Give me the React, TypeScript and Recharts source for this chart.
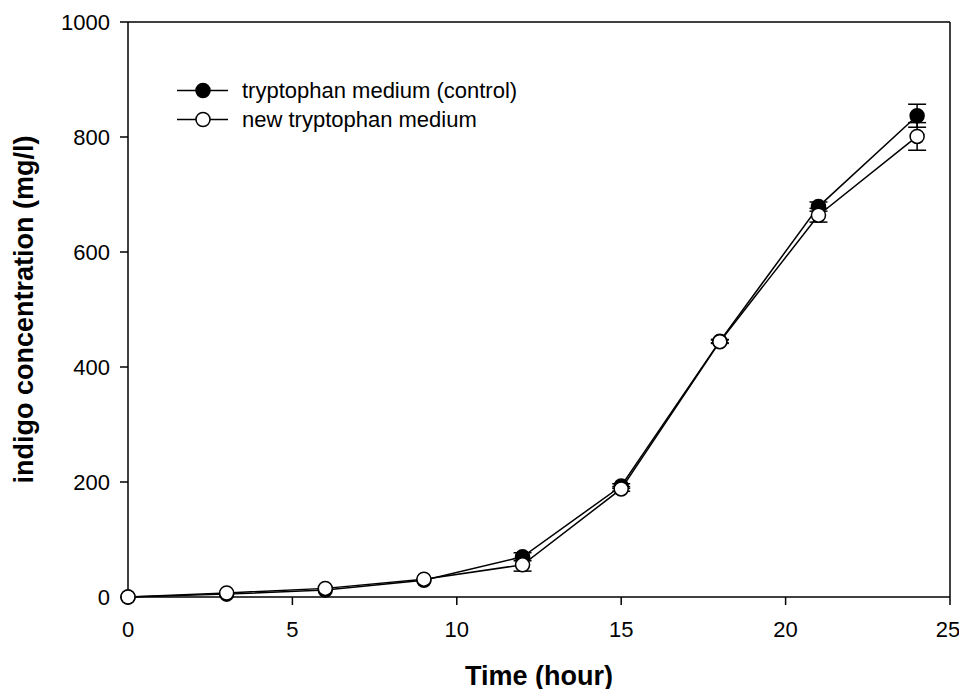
import { ComposedChart, Line, XAxis, YAxis, ErrorBar, ReferenceLine, Legend } from "recharts";

const hours = [0, 3, 6, 9, 12, 15, 18, 21, 24];
const control = [0, 5, 12, 29, 70, 193, 445, 679, 837];
const controlErr = [0, 0, 0, 0, 7, 4, 3, 8, 20];
const newMedium = [0, 7, 15, 31, 56, 188, 444, 664, 801];
const newErr = [0, 0, 0, 0, 11, 4, 3, 12, 24];

const xTicks = [0, 5, 10, 15, 20, 25];
const yTicks = [0, 200, 400, 600, 800, 1000];

const seriesInfo = [
  { key: "control", name: "tryptophan medium (control)", fill: "#000" },
  { key: "newMedium", name: "new tryptophan medium", fill: "#fff" },
];

const data = hours.map((h, i) => ({
  hour: h,
  control: control[i],
  controlErr: controlErr[i],
  newMedium: newMedium[i],
  newErr: newErr[i],
}));

const FONT = "'Liberation Sans', Arial, Helvetica, sans-serif";

const YTitle = ({ viewBox }: any) => {
  const cx = viewBox.x + 8;
  const cy = viewBox.y + viewBox.height / 2;
  return (
    <text
      x={cx}
      y={cy}
      transform={`rotate(-90 ${cx} ${cy})`}
      textAnchor="middle"
      dominantBaseline="central"
      fontFamily={FONT}
      fontWeight="bold"
      fontSize={27}
      fill="#000"
    >
      indigo concentration (mg/l)
    </text>
  );
};

const XTitle = ({ viewBox }: any) => (
  <text
    x={viewBox.x + viewBox.width / 2}
    y={viewBox.y + 88}
    textAnchor="middle"
    fontFamily={FONT}
    fontWeight="bold"
    fontSize={27}
    fill="#000"
  >
    Time (hour)
  </text>
);

const LegendBox = () => (
  <svg width={380} height={60} style={{ overflow: "visible", display: "block" }}>
    {seriesInfo.map((s, i) => {
      const y = 14.5 + i * 29;
      return (
        <g key={s.key}>
          <line x1={0} x2={51} y1={y} y2={y} stroke="#000" strokeWidth={1.5} />
          <circle cx={26} cy={y} r={7} fill={s.fill} stroke="#000" strokeWidth={1.5} />
          <text x={65} y={y} dominantBaseline="central" fontFamily={FONT} fontSize={22} fill="#000">
            {s.name}
          </text>
        </g>
      );
    })}
  </svg>
);

export default function App() {
  const dot = (fill: string) => ({ r: 7, fill, stroke: "#000", strokeWidth: 1.5 });
  return (
    <div>
      <style>{`.recharts-surface { overflow: visible; }`}</style>
      <ComposedChart
        width={951}
        height={681}
        data={data}
        margin={{ top: 14, right: 9, left: 8, bottom: 0 }}
        style={{ fontFamily: FONT }}
      >
        <XAxis
          dataKey="hour"
          type="number"
          domain={[0, 25]}
          ticks={xTicks}
          height={92}
          tickSize={8}
          tickMargin={16}
          stroke="#000"
          strokeWidth={1.5}
          tick={{ fill: "#000", fontSize: 22 }}
          label={<XTitle />}
        />
        <YAxis
          type="number"
          domain={[0, 1000]}
          ticks={yTicks}
          width={112}
          tickSize={8}
          tickMargin={10}
          stroke="#000"
          strokeWidth={1.5}
          tick={{ fill: "#000", fontSize: 22 }}
          label={<YTitle />}
        />
        <ReferenceLine y={1000} stroke="#000" strokeWidth={1.5} />
        <ReferenceLine x={25} stroke="#000" strokeWidth={1.5} />
        <Legend
          verticalAlign="middle"
          align="center"
          layout="horizontal"
          wrapperStyle={{ top: 67.5, left: 169, width: 380, margin: 0, padding: 0 }}
          content={<LegendBox />}
        />
        <Line
          dataKey="control"
          name={seriesInfo[0].name}
          type="linear"
          stroke="#000"
          strokeWidth={1.5}
          dot={dot("#000")}
          isAnimationActive={false}
        >
          <ErrorBar dataKey="controlErr" width={9} stroke="#000" strokeWidth={1.5} direction="y" />
        </Line>
        <Line
          dataKey="newMedium"
          name={seriesInfo[1].name}
          type="linear"
          stroke="#000"
          strokeWidth={1.5}
          dot={dot("#fff")}
          isAnimationActive={false}
        >
          <ErrorBar dataKey="newErr" width={9} stroke="#000" strokeWidth={1.5} direction="y" />
        </Line>
      </ComposedChart>
    </div>
  );
}
